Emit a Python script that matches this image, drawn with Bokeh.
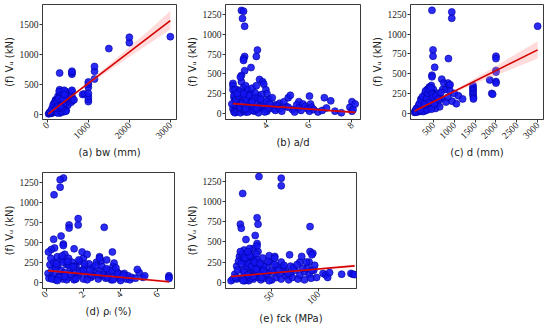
import math
from bokeh.plotting import figure
from bokeh.layouts import column, row
from bokeh.models import Range1d, FixedTicker
from bokeh.embed import file_html
from bokeh.resources import INLINE

# ---------------- data ----------------
# (a) web width b_w (mm) vs Vu (kN)
a_bw = [30, 50, 60, 80, 100, 100, 120, 130, 150, 150, 150, 160, 180, 180, 200, 200, 200, 200, 220, 230,
        250, 250, 250, 260, 280, 300, 300, 300, 300, 310, 320, 330, 350, 350, 350, 360, 380, 380, 400, 400,
        400, 420, 450, 450, 450, 460, 480, 300,
        100, 130, 170, 200, 230, 260, 280, 300, 330, 360, 400, 430, 460, 500, 250, 350, 400, 450, 300, 200,
        70, 110, 140, 190, 210, 240, 270, 290, 320, 340, 370, 390, 410, 440, 470, 350, 280, 380, 420, 320,
        580, 600, 600, 600, 600, 620, 650, 600, 600, 600,
        860, 900, 1000, 1000, 1000, 1000, 1000, 1000, 1000, 1150, 1150, 1150, 1500, 2000, 2000, 3000]
a_vu = [5, 10, 30, 20, 15, 45, 60, 25, 35, 80, 130, 180, 55, 100, 150, 70, 220, 240, 120, 30,
        85, 165, 250, 300, 45, 120, 200, 330, 410, 20, 60, 255, 150, 300, 380, 90, 95, 200, 270, 350,
        40, 125, 180, 300, 380, 60, 235, 690,
        35, 50, 60, 90, 120, 60, 110, 190, 240, 170, 200, 260, 220, 150, 20, 40, 100, 50, 110, 180,
        40, 90, 150, 200, 100, 210, 140, 380, 300, 220, 330, 160, 400, 250, 300, 100, 260, 250, 330, 130,
        200, 250, 300, 380, 400, 230, 240, 670, 700, 720,
        330, 340, 210, 250, 300, 350, 450, 500, 540, 590, 720, 800, 1100, 1200, 1290, 1300]

# (b) shear span ratio a/d vs Vu (kN)
b_ad = [2.4, 2.4, 2.4, 2.4, 2.45, 2.45, 2.5, 2.5, 2.5, 2.5, 2.5, 2.6, 2.6, 2.6, 2.7, 2.7, 2.7, 2.75, 2.8, 2.8,
        2.8, 2.85, 2.9, 2.9, 2.9, 2.95, 3.0, 3.0, 3.0, 3.0, 3.05, 3.1, 3.1, 3.2, 3.2, 3.25, 3.3, 3.3, 3.4, 3.4,
        3.5, 3.5, 3.55, 3.6, 3.6, 3.65, 3.7, 3.8, 3.8, 3.85, 3.9, 3.95, 4.0, 4.0, 4.1, 4.2, 4.3, 4.4,
        2.35, 2.45, 2.55, 2.65, 2.75, 2.85, 2.95, 3.05, 3.15, 3.25, 3.35, 3.45, 3.55, 3.65, 3.75, 3.85, 3.95,
        4.05, 4.15, 4.25, 2.5, 2.7, 2.9, 3.1, 3.3, 3.5, 3.7, 3.9, 4.6, 4.9, 5.2, 5.5, 5.7, 4.4, 2.6, 3.0,
        2.8, 2.9, 2.85, 2.95, 3.55, 3.5, 2.95, 2.9, 2.9, 3.25, 2.95, 2.8, 2.75,
        4.5, 4.6, 4.7, 4.8, 5.0, 5.0, 5.1, 5.3, 5.4, 5.5, 5.6, 5.8, 5.9, 6.0, 6.0, 6.05, 6.1, 6.2, 6.4, 6.6,
        6.7, 6.8, 7.0, 7.2, 7.5, 7.9, 8.0, 8.0, 8.05, 8.15]
b_vu = [380, 350, 300, 60, 200, 20, 160, 100, 40, 250, 10, 80, 30, 300, 120, 50, 200, 10, 400, 150,
        60, 250, 330, 100, 30, 200, 350, 270, 130, 20, 60, 300, 100, 180, 40, 250, 320, 80, 200, 30,
        350, 120, 50, 220, 10, 430, 80, 400, 150, 370, 60, 300, 250, 30, 180, 90, 60, 40,
        120, 230, 180, 220, 80, 130, 50, 170, 230, 140, 40, 260, 190, 90, 240, 110, 160,
        60, 120, 200, 300, 280, 250, 20, 150, 60, 180, 20, 130, 90, 50, 150, 120, 110, 250, 60,
        1300, 1290, 1200, 1100, 800, 720, 720, 690, 670, 580, 540, 480, 460,
        100, 60, 30, 150, 200, 80, 230, 20, 110, 70, 40, 90, 60, 220, 30, 120, 80, 50, 20, 40,
        200, 70, 160, 30, 10, 80, 150, 30, 50, 120]

# (c) effective depth d (mm) vs Vu (kN)
c_d = [50, 60, 80, 100, 100, 120, 150, 150, 150, 180, 200, 200, 200, 220, 250, 250, 250, 270, 300, 300,
       300, 300, 320, 350, 350, 350, 380, 400, 400, 400, 420, 450, 450, 450, 480, 500, 500, 520, 550, 550,
       600, 600, 650, 650, 700, 700, 720, 750, 800, 800, 850, 850, 880, 900, 900, 950, 1000, 1050, 1100, 1200,
       100, 130, 170, 200, 230, 260, 280, 300, 330, 360, 400, 430, 460, 500, 250, 350, 400, 450, 300, 200,
       70, 90, 140, 160, 190, 210, 240, 290, 310, 340, 370, 390, 420, 440, 470, 490, 520, 560, 620, 680,
       465, 940, 940, 3000, 490, 490, 530, 860, 465, 465,
       1450, 1450, 1450, 1450, 1450, 1450, 1460, 1460, 1850, 1900, 1920, 2000, 2000, 2000, 2000, 2000, 2000]
c_vu = [10, 30, 20, 50, 15, 70, 40, 100, 20, 80, 130, 60, 25, 110, 160, 90, 40, 200, 250, 150,
        70, 30, 180, 300, 220, 100, 140, 330, 260, 60, 200, 350, 280, 120, 180, 300, 90, 240, 160, 60,
        250, 120, 200, 80, 430, 180, 300, 380, 300, 140, 380, 200, 350, 360, 280, 150, 250, 120, 220, 180,
        35, 50, 60, 90, 120, 60, 110, 190, 240, 170, 200, 260, 220, 150, 20, 40, 100, 50, 110, 180,
        20, 60, 80, 120, 40, 170, 210, 120, 280, 190, 250, 300, 140, 320, 240, 200, 120, 220, 180, 260,
        1300, 1280, 1200, 1100, 800, 720, 580, 690, 480, 460,
        350, 320, 300, 280, 250, 230, 200, 180, 420, 250, 240, 720, 690, 540, 520, 400, 380]

# (d) longitudinal reinforcement ratio rho_l (%) vs Vu (kN)
d_rho = [0.1, 0.15, 0.2, 0.3, 0.3, 0.4, 0.5, 0.5, 0.6, 0.6, 0.7, 0.8, 0.8, 0.9, 1.0, 1.0, 1.1, 1.2, 1.2, 1.3,
         1.4, 1.5, 1.5, 1.6, 1.7, 1.8, 1.9, 2.0, 2.0, 2.1, 2.2, 2.3, 2.4, 2.5, 2.6, 2.7, 2.8, 2.9, 3.0, 3.0,
         3.1, 3.2, 3.3, 3.4, 3.5, 3.6, 3.7, 3.8, 3.9, 4.0, 4.1, 4.2, 4.3, 4.4, 4.5, 4.6, 4.8, 5.0, 5.2, 5.3,
         0.5, 0.7, 0.9, 1.1, 1.3, 1.6, 1.8, 2.2, 2.5, 2.8, 3.3, 3.6, 4.0, 0.3, 1.0, 1.5, 2.0, 2.4, 0.6, 1.2,
         0.25, 0.55, 0.85, 1.15, 1.45, 1.75, 2.05, 2.35, 2.65, 2.95, 3.25, 3.55, 3.85, 4.15,
         0.93, 0.75, 0.75, 0.42, 1.72, 1.72, 1.23, 1.23, 3.12, 0.8, 0.4, 0.92, 0.92, 0.45, 0.27, 0.12, 3.56,
         1.5, 1.93, 2.2, 2.87, 2.87, 3.25, 3.65, 3.75, 4.9, 6.6, 6.6, 6.6]
d_vu = [110, 50, 220, 150, 60, 250, 100, 30, 200, 320, 80, 150, 280, 40, 350, 120, 220, 300, 60, 180,
        250, 120, 30, 200, 80, 260, 150, 300, 40, 200, 100, 230, 60, 180, 120, 250, 40, 150, 200, 80,
        100, 50, 150, 120, 30, 200, 80, 130, 50, 100, 60, 110, 40, 80, 30, 60, 50, 120, 60, 80,
        180, 60, 250, 30, 100, 40, 120, 30, 80, 100, 60, 30, 20, 40, 70, 200, 150, 100, 20, 220,
        300, 230, 330, 260, 190, 280, 230, 150, 210, 270, 170, 140, 110, 90,
        1310, 1290, 1195, 1100, 800, 720, 720, 680, 690, 580, 540, 480, 460, 430, 410, 380, 380,
        420, 380, 350, 320, 300, 280, 240, 180, 160, 80, 60, 45]

# (e) concrete strength f_ck (MPa) vs Vu (kN)
e_fck = [10, 12, 15, 15, 18, 20, 20, 20, 22, 24, 25, 25, 25, 27, 28, 30, 30, 30, 30, 32,
         33, 35, 35, 35, 37, 38, 40, 40, 40, 42, 45, 45, 48, 50, 50, 52, 55, 55, 58, 60,
         60, 62, 65, 65, 68, 70, 70, 72, 75, 78, 80, 80, 85, 85, 88, 90, 90, 92, 95, 98,
         8, 6, 17, 22, 28, 33, 43, 47,
         12, 14, 18, 20, 23, 26, 29, 31, 34, 36, 39, 41, 44, 21, 27, 16, 19, 25,
         11, 13, 17, 21, 24, 26, 28, 31, 33, 37, 41, 46, 53, 57, 63, 67, 73, 77, 83, 87, 93, 96, 24, 30,
         36, 60, 60, 18.5, 34, 35, 16, 17, 91, 32, 22, 34, 34, 91, 94, 93, 69, 47, 53, 53, 82,
         105, 108, 110, 112, 125, 135, 137, 139]
e_vu = [100, 200, 50, 320, 150, 250, 80, 400, 30, 180, 350, 100, 20, 260, 60, 300, 150, 420, 40, 200,
        120, 380, 250, 60, 170, 30, 300, 100, 220, 50, 180, 80, 250, 150, 30, 120, 200, 60, 100, 250,
        40, 180, 80, 130, 30, 200, 100, 60, 150, 40, 250, 90, 130, 30, 180, 100, 250, 50, 150, 60,
        40, 20, 280, 300, 330, 350, 120, 20,
        40, 260, 350, 130, 200, 420, 180, 90, 280, 140, 60, 200, 110, 20, 50, 380, 20, 230,
        60, 150, 230, 300, 90, 330, 200, 250, 160, 230, 140, 260, 220, 150, 210, 110, 180, 220, 170, 250, 150, 210, 380, 70,
        1310, 1290, 1195, 1100, 800, 720, 720, 670, 690, 580, 530, 480, 450, 380, 360, 340, 340, 330, 320, 300, 320,
        110, 90, 60, 120, 100, 110, 100, 95]

# regression lines and confidence bands
fit_a_x = [25, 3000];   fit_a_y = [5, 1568]
band_a_x = [25, 500, 1000, 1500, 2000, 2500, 3000]
band_a_lo = [-10, 245, 492, 730, 963, 1190, 1420]
band_a_hi = [20, 265, 542, 830, 1123, 1420, 1730]

fit_b_x = [2.4, 8.15];  fit_b_y = [125, 15]
band_b_x = [2.4, 3.5, 5.0, 6.5, 8.15]
band_b_lo = [112, 97, 68, 38, 0]
band_b_hi = [138, 111, 82, 56, 30]

fit_c_x = [50, 3000];   fit_c_y = [27, 800]
band_c_x = [50, 500, 1000, 1500, 2000, 2500, 3000]
band_c_lo = [15, 137, 261, 372, 478, 584, 690]
band_c_hi = [39, 153, 291, 442, 598, 754, 910]

fit_d_x = [0.1, 6.6];   fit_d_y = [145, 5]
band_d_x = [0.1, 2.0, 4.0, 6.6]
band_d_lo = [130, 97, 51, -15]
band_d_hi = [160, 111, 71, 25]

fit_e_x = [6, 139];     fit_e_y = [72, 203]
band_e_x = [6, 50, 100, 139]
band_e_lo = [60, 110, 155, 185]
band_e_hi = [84, 120, 175, 222]

y_label = "(f) Vᵤ (kN)"
x_labels = ["(a) bw (mm)", "(b) a/d", "(c) d (mm)", "(d) ρₗ (%)", "(e) fck (MPa)"]
ticks_y_a = [0, 500, 1000, 1500]
ticks_y = [0, 250, 500, 750, 1000, 1250]
ticks_x_a = [0, 1000, 2000, 3000]
ticks_x_b = [2, 4, 6, 8]
ticks_x_c = [500, 1000, 1500, 2000, 2500, 3000]
ticks_x_d = [0, 2, 4, 6]
ticks_x_e = [50, 100]

PT_FILL = "#1414f2"
PT_LINE = "#0000a0"
LINE_RED = "#d40000"
BAND = "#ff9999"
FRAME = "#3a3a3a"


def make_fig(w, h, xr, yr, xticks, yticks, xlabel, bl, br, bt, bb):
    p = figure(width=w, height=h, x_range=Range1d(*xr), y_range=Range1d(*yr),
               output_backend="svg", toolbar_location=None, min_border=0,
               min_border_left=bl, min_border_right=br, min_border_top=bt, min_border_bottom=bb)
    p.xgrid.visible = False
    p.ygrid.visible = False
    p.outline_line_color = FRAME
    p.outline_line_width = 1
    p.outline_line_alpha = 1
    p.xaxis.ticker = FixedTicker(ticks=xticks)
    p.yaxis.ticker = FixedTicker(ticks=yticks)
    p.xaxis.major_label_orientation = math.pi / 4
    p.xaxis.axis_label = xlabel
    p.yaxis.axis_label = y_label
    for ax in (p.xaxis[0], p.yaxis[0]):
        ax.axis_line_color = FRAME
        ax.minor_tick_line_color = None
        ax.major_tick_out = 3
        ax.major_tick_in = 0
        ax.major_tick_line_color = FRAME
        ax.major_label_text_font = "Liberation Serif"
        ax.major_label_text_font_size = "9.5px"
        ax.major_label_text_color = "#222222"
        ax.major_label_standoff = 1
        ax.axis_label_text_font = "DejaVu Sans"
        ax.axis_label_text_font_size = "10px"
        ax.axis_label_text_font_style = "normal"
        ax.axis_label_text_color = "#222222"
        ax.axis_label_standoff = 2
    return p


def fill_panel(p, xs, ys, fx, fy, bx, blo, bhi):
    p.scatter(xs, ys, size=7, fill_color=PT_FILL, fill_alpha=0.9,
              line_color=PT_LINE, line_width=0.6)
    p.varea(x=bx, y1=blo, y2=bhi, fill_color=BAND, fill_alpha=0.35)
    p.line(fx, fy, line_color=LINE_RED, line_width=1.6)


fa = make_fig(180, 160, (-118, 3150), (-90, 1840), ticks_x_a, ticks_y_a, x_labels[0], 39, 4, 4, 37)
fill_panel(fa, a_bw, a_vu, fit_a_x, fit_a_y, band_a_x, band_a_lo, band_a_hi)

fb = make_fig(185, 160, (2.05, 8.4), (-75, 1375), ticks_x_b, ticks_y, x_labels[1], 45, 5, 4, 37)
fill_panel(fb, b_ad, b_vu, fit_b_x, fit_b_y, band_b_x, band_b_lo, band_b_hi)

fc = make_fig(185, 160, (-50, 3140), (-80, 1374), ticks_x_c, ticks_y, x_labels[2], 45, 7, 4, 35)
fill_panel(fc, c_d, c_vu, fit_c_x, fit_c_y, band_c_x, band_c_lo, band_c_hi)

fd = make_fig(180, 166, (-0.2, 6.9), (-80, 1380), ticks_x_d, ticks_y, x_labels[3], 40, 6, 10, 37)
fill_panel(fd, d_rho, d_vu, fit_d_x, fit_d_y, band_d_x, band_d_lo, band_d_hi)

fe = make_fig(185, 166, (0, 141), (-77, 1360), ticks_x_e, ticks_y, x_labels[4], 45, 9, 12, 35)
fill_panel(fe, e_fck, e_vu, fit_e_x, fit_e_y, band_e_x, band_e_lo, band_e_hi)

layout = column(row(fa, fb, fc), row(fd, fe))

open("out.html", "w").write(file_html(layout, INLINE, title="Vu scatter plots"))
